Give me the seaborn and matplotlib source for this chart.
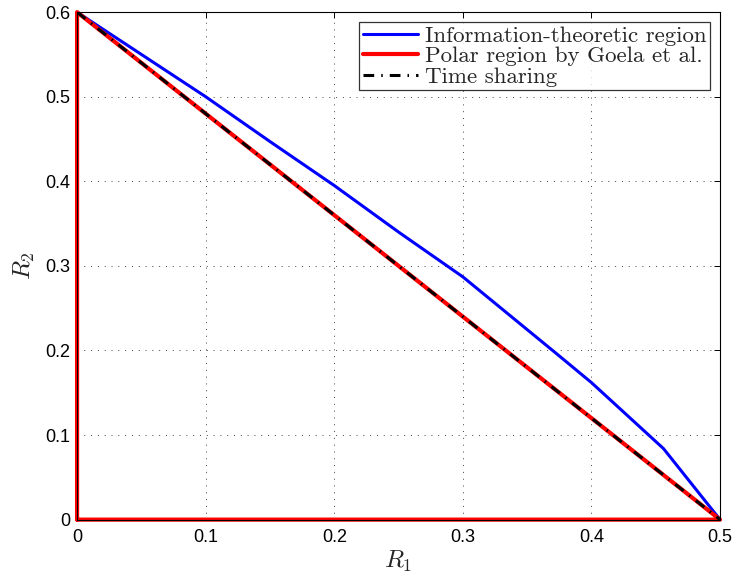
"""Achievable rate regions: information-theoretic vs polar (Goela et al.) vs time sharing."""

import matplotlib
matplotlib.use("Agg")
import matplotlib.pyplot as plt
import pandas as pd
import seaborn as sns

# Information-theoretic region boundary
INFO_R1 = [0.0, 0.05, 0.1, 0.15, 0.2, 0.25, 0.3, 0.373, 0.4, 0.456, 0.5]
INFO_R2 = [0.6, 0.55, 0.5, 0.447, 0.395, 0.340, 0.287, 0.196, 0.162, 0.084, 0.0]

# Polar region by Goela et al. (closed triangle)
POLAR_R1 = [0.0, 0.0, 0.5, 0.0]
POLAR_R2 = [0.0, 0.6, 0.0, 0.0]

# Time sharing line
TS_R1 = [0.0, 0.5]
TS_R2 = [0.6, 0.0]

X_TICKS = [0.0, 0.1, 0.2, 0.3, 0.4, 0.5]
X_TICK_LABELS = ["0", "0.1", "0.2", "0.3", "0.4", "0.5"]
Y_TICKS = [0.0, 0.1, 0.2, 0.3, 0.4, 0.5, 0.6]
Y_TICK_LABELS = ["0", "0.1", "0.2", "0.3", "0.4", "0.5", "0.6"]

LABELS = ["Information-theoretic region", "Polar region by Goela et al.", "Time sharing"]


def main() -> None:
    sns.set_style("white")
    plt.rcParams["font.family"] = ["Liberation Sans", "DejaVu Sans"]
    plt.rcParams["mathtext.fontset"] = "cm"

    info = pd.DataFrame({"R1": INFO_R1, "R2": INFO_R2})
    polar = pd.DataFrame({"R1": POLAR_R1, "R2": POLAR_R2})
    ts = pd.DataFrame({"R1": TS_R1, "R2": TS_R2})

    fig = plt.figure(figsize=(7.34, 5.78), dpi=100)
    ax = fig.add_axes([0.105, 0.101, 0.876, 0.878])

    sns.lineplot(data=info, x="R1", y="R2", sort=False, estimator=None, color="#0000ff",
                 linewidth=2.2, label=LABELS[0], ax=ax)
    sns.lineplot(data=polar, x="R1", y="R2", sort=False, estimator=None, color="#ff0000",
                 linewidth=3.0, label=LABELS[1], ax=ax, clip_on=False)
    sns.lineplot(data=ts, x="R1", y="R2", sort=False, estimator=None, color="black",
                 linewidth=2.2, dashes=False, label=LABELS[2], ax=ax)
    ax.lines[-1].set_linestyle((0, (3.5, 2.3, 0.5, 2.3)))

    ax.set_xlim(0, 0.5)
    ax.set_ylim(0, 0.6)
    ax.set_xticks(X_TICKS)
    ax.set_xticklabels(X_TICK_LABELS)
    ax.set_yticks(Y_TICKS)
    ax.set_yticklabels(Y_TICK_LABELS)
    ax.tick_params(axis="both", direction="in", top=True, right=True, labelsize=13,
                   length=4, width=0.7, colors="black")
    ax.tick_params(axis="x", pad=7)
    ax.tick_params(axis="y", pad=5)

    ax.grid(True, linestyle=(0, (1, 6)), color="black", linewidth=0.7, alpha=0.75)
    for spine in ax.spines.values():
        spine.set_visible(True)
        spine.set_color("black")
        spine.set_linewidth(0.8)

    ax.set_xlabel(r"$R_1$", fontsize=18, labelpad=2)
    ax.set_ylabel(r"$R_2$", fontsize=18, labelpad=6)

    leg = ax.legend(loc="upper right", prop={"family": "cmr10", "size": 16.5}, frameon=True,
                    fancybox=False, edgecolor="black", handlelength=2.4, handletextpad=0.3,
                    borderpad=0.15, labelspacing=0.02, borderaxespad=0.45)
    leg.get_frame().set_linewidth(0.9)

    fig.savefig("out.png", dpi=100)
    plt.close(fig)


if __name__ == "__main__":
    main()
